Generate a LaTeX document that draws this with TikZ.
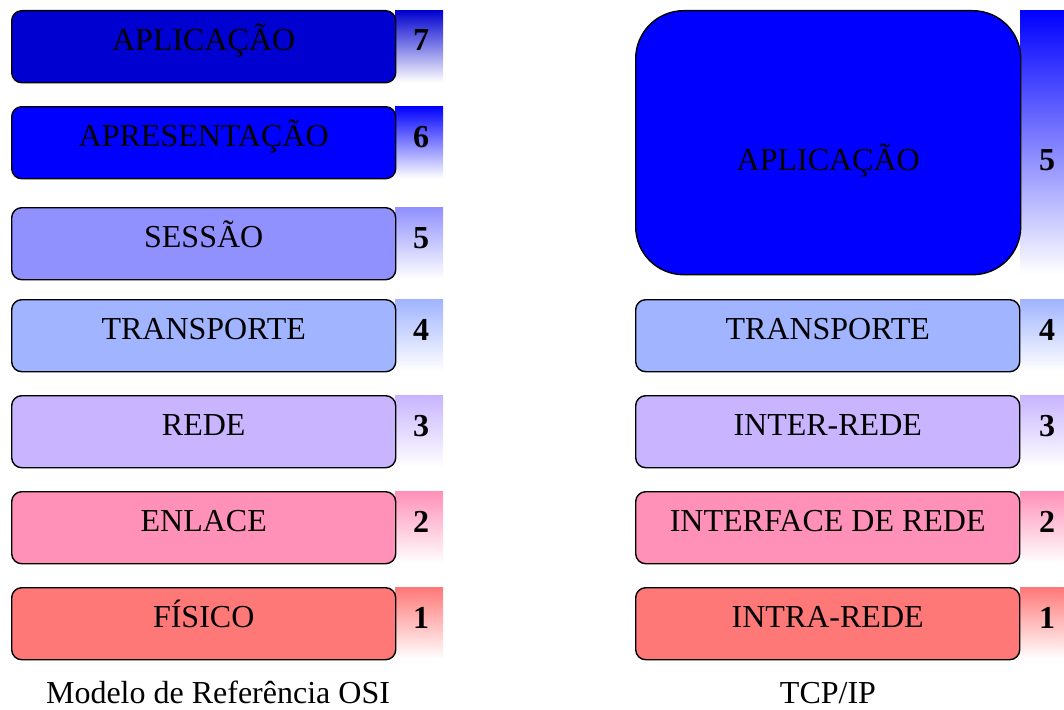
\documentclass[tikz,border=0pt]{standalone}
\usepackage{fontspec}
\setmainfont{Liberation Serif}
\definecolor{c7}{RGB}{0,0,208}
\definecolor{c6}{RGB}{0,0,255}
\definecolor{c5}{RGB}{144,144,255}
\definecolor{c4}{RGB}{160,180,255}
\definecolor{c3}{RGB}{200,180,255}
\definecolor{c2}{RGB}{255,144,184}
\definecolor{c1}{RGB}{255,120,120}
\begin{document}
\begin{tikzpicture}[x=1pt,y=-1pt,
  layerbox/.style={draw=black, line width=1.4pt, rounded corners=10pt, minimum width=384pt, minimum height=72pt, anchor=north west, inner sep=0pt},
  bigbox/.style={draw=black, line width=1.4pt, rounded corners=48pt, minimum width=385pt, minimum height=264pt, anchor=north west, inner sep=0pt},
  numbox/.style={draw=none, minimum width=48pt, minimum height=72pt, anchor=north west, inner sep=0pt, bottom color=white},
  lbl/.style={anchor=base, font=\fontsize{32}{36}\selectfont},
  num/.style={anchor=base, font=\fontsize{32}{36}\selectfont\bfseries},
  captext/.style={anchor=base, font=\fontsize{32}{36}\selectfont}]
\useasboundingbox (0,0) rectangle (1064,709);
% Left: OSI
\foreach \n/\t/\c/\y in {7/APLICAÇÃO/c7/10, 6/APRESENTAÇÃO/c6/106, 5/SESSÃO/c5/207, 4/TRANSPORTE/c4/299, 3/REDE/c3/395, 2/ENLACE/c2/491, 1/FÍSICO/c1/587}{
  \node[numbox, top color=\c] (ln\n) at (395,\y) {};
  \node[layerbox, fill=\c] (l\n) at (11,\y) {};
  \node[lbl] (lt\n) at ([yshift=-40pt]l\n.north) {\t};
  \node[num] (lnt\n) at ([xshift=2pt,yshift=-41pt]ln\n.north) {\n};
}
% Right: TCP/IP
\node[numbox, top color=c6, minimum height=264pt] (rn5) at (1020,10) {};
\node[bigbox, fill=c6] (r5) at (635,10) {};
\node[lbl] (rt5) at ([yshift=-28pt]r5.center) {APLICAÇÃO};
\node[num] (rnt5) at ([xshift=3pt,yshift=-28pt]rn5.center) {5};
\foreach \n/\t/\c/\y in {4/TRANSPORTE/c4/299, 3/INTER-REDE/c3/395, 2/INTERFACE DE REDE/c2/491, 1/INTRA-REDE/c1/587}{
  \node[numbox, top color=\c] (rn\n) at (1020,\y) {};
  \node[layerbox, fill=\c] (r\n) at (635,\y) {};
  \node[lbl] (rt\n) at ([yshift=-40pt]r\n.north) {\t};
  \node[num] (rnt\n) at ([xshift=3pt,yshift=-41pt]rn\n.north) {\n};
}
\node[captext] (capL) at (218,703) {Modelo de Referência OSI};
\node[captext] (capR) at (828,703) {TCP/IP};
\end{tikzpicture}
\end{document}
